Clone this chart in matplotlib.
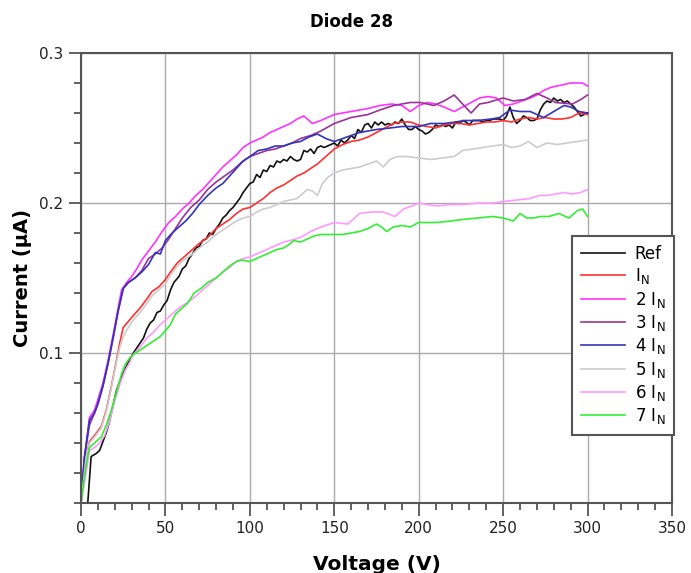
import matplotlib
matplotlib.use("Agg")
import matplotlib.pyplot as plt
from matplotlib.ticker import MultipleLocator, FixedLocator

title = "Diode 28"
xlabel = "Voltage (V)"
ylabel = "Current (µA)"
labels = ["Ref", r"$\mathregular{I_N}$", r"$\mathregular{2\ I_N}$", r"$\mathregular{3\ I_N}$",
          r"$\mathregular{4\ I_N}$", r"$\mathregular{5\ I_N}$", r"$\mathregular{6\ I_N}$",
          r"$\mathregular{7\ I_N}$"]
colors = ["#111111", "#ff3030", "#ff33ff", "#993399", "#3333bb", "#cccccc", "#ff99ff", "#33ee33"]

ref_v = [0, 4, 6, 9, 11, 13, 15, 17, 19, 21, 24, 26, 29, 31, 34, 37, 39, 41, 43, 45, 47, 49, 51, 53, 55,
         58, 60, 62, 64, 66, 68, 70, 72, 74, 76, 78, 80, 82, 84, 86, 88, 90, 92, 94, 96, 98, 100, 102,
         104, 106, 108, 110, 112, 114, 116, 118, 120, 122, 124, 126, 128, 130, 132, 134, 136, 138, 140,
         142, 144, 146, 148, 150, 152, 154, 156, 158, 160, 162, 164, 166, 168, 170, 172, 174, 176, 178,
         180, 182, 184, 186, 188, 190, 192, 194, 196, 198, 200, 202, 204, 206, 208, 210, 212, 214, 216,
         218, 220, 222, 224, 226, 228, 230, 232, 234, 236, 238, 240, 242, 244, 246, 248, 250, 252, 254,
         256, 258, 260, 262, 264, 266, 268, 270, 272, 274, 276, 278, 280, 282, 284, 286, 288, 290, 292,
         294, 296, 298, 300]
ref_i = [0, 0, 0.031, 0.033, 0.035, 0.041, 0.047, 0.055, 0.065, 0.075, 0.084, 0.089, 0.096, 0.100, 0.105,
         0.110, 0.116, 0.120, 0.122, 0.127, 0.128, 0.132, 0.135, 0.142, 0.147, 0.151, 0.156, 0.158, 0.163,
         0.166, 0.170, 0.171, 0.175, 0.176, 0.180, 0.179, 0.183, 0.186, 0.190, 0.192, 0.195, 0.197, 0.200,
         0.203, 0.207, 0.210, 0.213, 0.214, 0.219, 0.217, 0.222, 0.221, 0.225, 0.224, 0.228, 0.227, 0.229,
         0.228, 0.231, 0.229, 0.228, 0.229, 0.235, 0.234, 0.236, 0.233, 0.237, 0.238, 0.237, 0.238, 0.239,
         0.240, 0.238, 0.242, 0.240, 0.242, 0.245, 0.243, 0.249, 0.247, 0.252, 0.253, 0.250, 0.254, 0.252,
         0.254, 0.252, 0.253, 0.252, 0.254, 0.253, 0.256, 0.252, 0.249, 0.249, 0.251, 0.249, 0.248, 0.246,
         0.247, 0.249, 0.252, 0.251, 0.252, 0.251, 0.252, 0.250, 0.254, 0.253, 0.255, 0.254, 0.252, 0.255,
         0.255, 0.255, 0.254, 0.255, 0.255, 0.256, 0.256, 0.256, 0.255, 0.258, 0.264, 0.257, 0.253, 0.255,
         0.258, 0.257, 0.255, 0.255, 0.256, 0.262, 0.266, 0.268, 0.267, 0.270, 0.268, 0.269, 0.267, 0.268,
         0.266, 0.264, 0.261, 0.258, 0.259, 0.260]

in1_v = [0, 3, 5, 8, 12, 15, 18, 21, 23, 25, 28, 31, 35, 39, 42, 46, 50, 53, 57, 61, 66, 70, 75, 80, 84,
         88, 92, 96, 100, 104, 108, 112, 116, 120, 124, 128, 132, 136, 140, 145, 150, 155, 160, 165, 170,
         175, 180, 185, 190, 195, 200, 205, 210, 215, 220, 225, 230, 235, 240, 245, 250, 255, 260, 265,
         270, 275, 280, 285, 290, 295, 300]
in1_i = [0, 0.030, 0.041, 0.045, 0.051, 0.062, 0.078, 0.095, 0.107, 0.117, 0.121, 0.125, 0.130, 0.136,
         0.141, 0.144, 0.149, 0.154, 0.160, 0.164, 0.169, 0.173, 0.177, 0.183, 0.186, 0.189, 0.193, 0.196,
         0.197, 0.200, 0.203, 0.207, 0.210, 0.212, 0.215, 0.218, 0.220, 0.223, 0.226, 0.231, 0.236, 0.239,
         0.241, 0.242, 0.244, 0.247, 0.250, 0.253, 0.254, 0.254, 0.252, 0.251, 0.250, 0.252, 0.253, 0.253,
         0.252, 0.253, 0.254, 0.254, 0.255, 0.254, 0.256, 0.257, 0.256, 0.257, 0.256, 0.256, 0.257, 0.260,
         0.259]

in2_v = [0, 2, 5, 8, 10, 13, 16, 19, 22, 24, 27, 30, 33, 36, 40, 44, 48, 52, 56, 60, 64, 68, 72, 76, 80,
         84, 88, 92, 96, 100, 104, 108, 112, 116, 120, 124, 128, 132, 137, 142, 146, 150, 155, 160, 165,
         170, 177, 184, 190, 195, 200, 205, 210, 215, 221, 226, 231, 236, 241, 246, 251, 256, 261, 266,
         270, 274, 278, 282, 286, 290, 294, 297, 300]
in2_i = [0, 0.030, 0.057, 0.062, 0.069, 0.080, 0.095, 0.112, 0.130, 0.142, 0.147, 0.151, 0.156, 0.162,
         0.168, 0.174, 0.181, 0.187, 0.191, 0.196, 0.200, 0.205, 0.209, 0.214, 0.219, 0.224, 0.228, 0.232,
         0.237, 0.240, 0.242, 0.244, 0.247, 0.249, 0.251, 0.253, 0.256, 0.258, 0.253, 0.255, 0.257, 0.259,
         0.260, 0.261, 0.262, 0.263, 0.265, 0.266, 0.265, 0.261, 0.265, 0.267, 0.266, 0.264, 0.261, 0.264,
         0.267, 0.270, 0.271, 0.270, 0.265, 0.266, 0.268, 0.270, 0.272, 0.275, 0.277, 0.278, 0.279, 0.280,
         0.280, 0.280, 0.278]

in3_v = [0, 2, 5, 8, 10, 13, 16, 19, 22, 25, 28, 32, 36, 40, 44, 48, 52, 56, 60, 65, 70, 75, 80, 85, 90,
         95, 100, 105, 110, 115, 120, 125, 130, 136, 142, 150, 160, 170, 177, 185, 195, 201, 209, 215, 221,
         226, 231, 236, 241, 250, 256, 263, 270, 276, 281, 291, 296, 300]
in3_i = [0, 0.030, 0.052, 0.060, 0.066, 0.078, 0.093, 0.110, 0.128, 0.143, 0.147, 0.150, 0.155, 0.163,
         0.166, 0.170, 0.176, 0.183, 0.190, 0.197, 0.202, 0.209, 0.214, 0.218, 0.222, 0.227, 0.231, 0.233,
         0.235, 0.236, 0.238, 0.240, 0.243, 0.245, 0.248, 0.253, 0.257, 0.259, 0.262, 0.265, 0.267, 0.267,
         0.265, 0.268, 0.272, 0.266, 0.260, 0.266, 0.267, 0.270, 0.268, 0.269, 0.273, 0.270, 0.267, 0.266,
         0.269, 0.272]

in4_v = [0, 2, 5, 8, 10, 13, 16, 19, 22, 25, 28, 32, 36, 40, 44, 47, 50, 54, 58, 62, 66, 70, 75, 80, 84,
         88, 92, 96, 100, 105, 110, 115, 120, 125, 130, 135, 140, 145, 150, 155, 160, 165, 170, 175, 183,
         190, 200, 207, 215, 222, 227, 235, 243, 248, 254, 260, 266, 270, 274, 280, 286, 290, 295, 300]
in4_i = [0, 0.030, 0.055, 0.060, 0.066, 0.078, 0.093, 0.110, 0.128, 0.143, 0.147, 0.150, 0.154, 0.159,
         0.167, 0.166, 0.175, 0.180, 0.184, 0.188, 0.193, 0.199, 0.205, 0.210, 0.213, 0.218, 0.223, 0.228,
         0.231, 0.235, 0.236, 0.238, 0.238, 0.240, 0.241, 0.244, 0.246, 0.243, 0.241, 0.243, 0.245, 0.247,
         0.248, 0.249, 0.250, 0.251, 0.251, 0.253, 0.253, 0.254, 0.255, 0.255, 0.256, 0.257, 0.262, 0.261,
         0.261, 0.259, 0.257, 0.261, 0.265, 0.264, 0.261, 0.260]

in5_v = [0, 3, 5, 8, 12, 15, 18, 21, 23, 25, 28, 31, 35, 39, 42, 46, 50, 53, 57, 61, 66, 70, 75, 80, 84,
         88, 92, 96, 100, 104, 108, 112, 116, 120, 124, 128, 131, 134, 137, 140, 143, 146, 150, 155, 160,
         165, 170, 175, 179, 183, 187, 193, 200, 207, 214, 221, 226, 232, 238, 244, 250, 255, 260, 265,
         270, 276, 282, 288, 294, 300]
in5_i = [0, 0.030, 0.040, 0.044, 0.050, 0.061, 0.077, 0.094, 0.104, 0.111, 0.117, 0.122, 0.127, 0.133,
         0.138, 0.142, 0.146, 0.152, 0.158, 0.162, 0.166, 0.170, 0.174, 0.179, 0.182, 0.185, 0.188, 0.190,
         0.191, 0.194, 0.196, 0.197, 0.199, 0.201, 0.202, 0.203, 0.206, 0.209, 0.208, 0.205, 0.213, 0.217,
         0.220, 0.222, 0.223, 0.224, 0.226, 0.228, 0.224, 0.229, 0.231, 0.231, 0.230, 0.229, 0.230, 0.231,
         0.235, 0.236, 0.237, 0.238, 0.239, 0.237, 0.238, 0.241, 0.237, 0.240, 0.239, 0.240, 0.241, 0.242]

in6_v = [0, 3, 5, 8, 11, 14, 17, 20, 23, 26, 29, 31, 35, 39, 43, 47, 50, 54, 58, 62, 66, 70, 75, 80, 84,
         88, 92, 96, 100, 104, 108, 112, 116, 120, 124, 130, 136, 142, 150, 158, 165, 172, 179, 186, 191,
         196, 200, 205, 211, 218, 226, 236, 244, 250, 258, 266, 271, 276, 281, 286, 291, 296, 300]
in6_i = [0, 0.020, 0.035, 0.037, 0.040, 0.045, 0.055, 0.068, 0.079, 0.088, 0.094, 0.099, 0.104, 0.110,
         0.114, 0.119, 0.122, 0.126, 0.130, 0.133, 0.136, 0.140, 0.145, 0.150, 0.154, 0.157, 0.161, 0.163,
         0.164, 0.166, 0.168, 0.170, 0.172, 0.174, 0.175, 0.177, 0.181, 0.184, 0.187, 0.186, 0.193, 0.194,
         0.194, 0.191, 0.196, 0.198, 0.200, 0.199, 0.198, 0.199, 0.199, 0.200, 0.200, 0.201, 0.202, 0.203,
         0.205, 0.205, 0.206, 0.207, 0.206, 0.207, 0.209]

in7_v = [0, 3, 5, 8, 12, 15, 18, 21, 24, 26, 29, 31, 35, 39, 43, 47, 50, 53, 56, 59, 63, 67, 71, 75, 80,
         84, 88, 92, 95, 100, 104, 108, 112, 116, 120, 124, 126, 130, 134, 138, 142, 148, 155, 160, 165,
         170, 175, 178, 181, 185, 190, 195, 200, 211, 219, 226, 235, 244, 250, 256, 260, 264, 268, 272,
         277, 283, 289, 294, 297, 300]
in7_i = [0, 0.025, 0.037, 0.040, 0.044, 0.052, 0.062, 0.074, 0.086, 0.092, 0.097, 0.099, 0.102, 0.105,
         0.108, 0.111, 0.115, 0.119, 0.126, 0.129, 0.133, 0.140, 0.143, 0.147, 0.150, 0.154, 0.158, 0.161,
         0.162, 0.161, 0.163, 0.165, 0.167, 0.169, 0.170, 0.173, 0.175, 0.174, 0.176, 0.178, 0.179, 0.179,
         0.179, 0.180, 0.181, 0.183, 0.186, 0.184, 0.181, 0.184, 0.185, 0.184, 0.187, 0.187, 0.188, 0.189,
         0.190, 0.191, 0.190, 0.188, 0.193, 0.190, 0.190, 0.191, 0.191, 0.193, 0.190, 0.195, 0.196, 0.191]

series_v = [ref_v, in1_v, in2_v, in3_v, in4_v, in5_v, in6_v, in7_v]
series_i = [ref_i, in1_i, in2_i, in3_i, in4_i, in5_i, in6_i, in7_i]

xticks = [0, 50, 100, 150, 200, 250, 300, 350]
yticks = [0.1, 0.2, 0.3]

plt.rcParams['font.family'] = ['DejaVu Sans']
fig = plt.figure(figsize=(6.91, 5.73), dpi=100)
ax = fig.add_axes([81/691, 1 - 503/573, (672-81)/691, (503-53)/573])

for v, i, lab, c in zip(series_v, series_i, labels, colors):
    ax.plot(v, i, color=c, lw=1.2, label=lab)

ax.set_xlim(0, 350)
ax.set_ylim(0, 0.3)
ax.xaxis.set_major_locator(FixedLocator(xticks))
ax.yaxis.set_major_locator(FixedLocator(yticks))
ax.xaxis.set_minor_locator(MultipleLocator(10))
ax.yaxis.set_minor_locator(MultipleLocator(0.02))
ax.set_xticklabels([str(t) for t in xticks])
ax.set_yticklabels([f"{t:.1f}" for t in yticks])
ax.grid(True, which='major', color='#aaaaaa', lw=1.0)
ax.set_axisbelow(True)
spine_c = '#555555'
for s in ax.spines.values():
    s.set_color(spine_c)
    s.set_linewidth(1.5)
ax.tick_params(which='major', length=9, width=1.3, color=spine_c, labelsize=11, pad=4,
               labelcolor='#222222')
ax.tick_params(which='minor', length=5, width=1.3, color=spine_c)

ax.set_xlabel(xlabel, fontsize=14.5, fontweight='bold', labelpad=14)
ax.set_ylabel(ylabel, fontsize=14, fontweight='bold', labelpad=5)
fig.text(352/691, 1 - 22/573, title, ha='center', va='center', fontsize=12, fontweight='bold')

leg = ax.legend(loc='upper right', bbox_to_anchor=(1.004, 0.594), fontsize=12,
                frameon=True, fancybox=False, handlelength=2.6, handletextpad=0.6,
                labelspacing=0.2, borderpad=0.55, borderaxespad=0)
leg.get_frame().set_edgecolor(spine_c)
leg.get_frame().set_linewidth(1.5)
leg.get_frame().set_alpha(1)

fig.savefig("out.png", dpi=100)
